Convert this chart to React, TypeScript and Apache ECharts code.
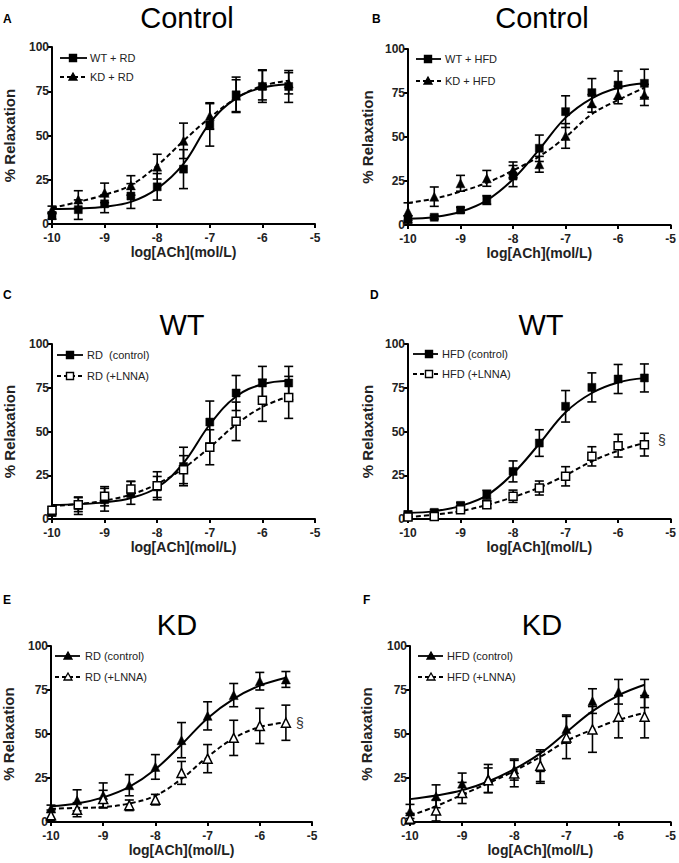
import React, { useEffect, useRef } from "react";
import * as echarts from "echarts";

// ---- shared axes ----
const X_DOSES = [-10, -9.5, -9, -8.5, -8, -7.5, -7, -6.5, -6, -5.5];
const X_TICKS = [-10, -9, -8, -7, -6, -5];
const Y_TICKS = [0, 25, 50, 75, 100];

// ---- Panel A: Control ----
const aWtRd = [4.7, 8.1, 11.4, 15.8, 21, 31, 56, 73, 77.7, 77.7];
const aWtRdErr = [2, 5.5, 5, 7, 7.5, 11, 12, 10, 9, 9];
const aWtRdFit = [8.5, 8.8, 9.8, 12.5, 20, 34, 57, 71, 77, 79];
const aKdRd = [8.1, 13.8, 17.6, 21.8, 32.4, 47, 61, 72.5, 78.6, 79.5];
const aKdRdErr = [2, 5, 5.5, 5.5, 7, 10, 7.5, 9, 8.5, 6];
const aKdRdFit = [9, 12.5, 16.5, 22, 33, 47, 60, 71, 78, 81];

// ---- Panel B: Control ----
const bWtHfd = [3.2, 4.4, 8.5, 14.2, 27.8, 43.6, 64.4, 75.2, 79.5, 80.5];
const bWtHfdErr = [2, 1, 1.5, 2.5, 6, 7.5, 9, 8, 8, 8];
const bWtHfdFit = [3.5, 4.5, 7.5, 14, 26, 43, 61, 72, 78, 80.5];
const bKdHfd = [7.6, 16.1, 23.7, 26.5, 31.3, 34.5, 50.6, 69.1, 73.9, 73.9];
const bKdHfdErr = [5, 5.5, 4.5, 4.5, 4.5, 4.5, 7, 5, 5, 6];
const bKdHfdFit = [12.5, 15, 19, 24, 31, 39, 50, 63, 71, 78];

// ---- Panel C: WT ----
const cRdCtrl = [3.8, 7.6, 11, 14.9, 18.3, 30, 55.4, 72, 77.7, 77.7];
const cRdCtrlErr = [2, 5, 6.5, 6.5, 6, 11, 12, 10, 9.5, 9.5];
const cRdCtrlFit = [8, 8.5, 9.5, 12, 18, 32, 54, 70, 77, 79];
const cRdLnna = [5, 8.2, 13, 17.1, 19, 28.2, 41, 55.8, 67.8, 69.5];
const cRdLnnaErr = [2, 4, 5.5, 4.5, 8, 8, 10, 11, 12, 12];
const cRdLnnaFit = [7.5, 8.5, 10.5, 14, 20, 29, 41, 54, 64, 70];

// ---- Panel D: WT ----
const dHfdCtrl = [2.5, 3.8, 7.8, 13.9, 27.2, 43.4, 64.4, 75.2, 80, 80.6];
const dHfdCtrlErr = [2, 1.5, 1.5, 2.5, 6, 7.6, 9, 8.3, 8.3, 8];
const dHfdCtrlFit = [3.5, 4.5, 7.5, 13.5, 26, 43, 61, 72, 78, 80.5];
const dHfdLnna = [1.1, 1.5, 5.3, 8.2, 13, 17.7, 24.4, 35.8, 41.9, 42.5];
const dHfdLnnaErr = [1.5, 1.5, 1.5, 2, 3.5, 4, 5.5, 5.5, 6.5, 6.5];
const dHfdLnnaFit = [1, 2.5, 4.5, 8, 12.5, 18, 25, 33, 39, 43.5];

// ---- Panel E: KD ----
const eRdCtrl = [7.6, 12.3, 15.2, 20.9, 31.3, 46.5, 60.3, 72.1, 80, 81];
const eRdCtrlErr = [2, 6, 7, 6, 7, 10, 8, 6.6, 5, 4.5];
const eRdCtrlFit = [9, 10.5, 14, 20, 30, 44, 59, 70, 77.5, 82];
const eRdLnna = [3.8, 7, 13, 9.5, 12.7, 27.9, 36, 47.8, 54.6, 56.4];
const eRdLnnaErr = [3, 4, 5, 3, 3, 6.5, 8, 10, 10, 10];
const eRdLnnaFit = [7.5, 8, 8.5, 10.5, 15, 24.5, 37, 47.5, 54, 56.5];

// ---- Panel F: KD ----
const fHfdCtrl = [6, 14.6, 21.8, 24.7, 29.8, 31, 52.8, 68.7, 74, 73];
const fHfdCtrlErr = [4, 6.5, 6, 8, 6, 9, 8, 7, 7, 8];
const fHfdCtrlFit = [13, 15, 18, 23, 30, 39, 51, 63, 72, 78];
const fHfdLnna = [1.9, 6.6, 16.5, 23.7, 27.5, 32, 48, 52.6, 59.8, 59.8];
const fHfdLnnaErr = [3, 6, 6, 7, 7.5, 9, 12, 13, 12, 12];
const fHfdLnnaFit = [3.5, 9, 15.5, 22, 29, 37, 46, 52.5, 58, 62];

type Sym = "square" | "triangle";
interface SeriesDef {
  name: string;
  y: number[];
  err: number[];
  fit: number[];
  sym: Sym;
  open: boolean;
  dashed: boolean;
}
interface PanelDef {
  letter: string;
  title: string;
  grid: { left: number; top: number; width: number; height: number };
  letterPos: [number, number];
  titlePos: [number, number];
  nameGapY: number;
  legend: { x0: number; x1: number; xs: number; xt: number; ys: [number, number] };
  section?: [number, number];
  series: [SeriesDef, SeriesDef];
}

const PANELS: PanelDef[] = [
  {
    letter: "A", title: "Control",
    grid: { left: 52, top: 47, width: 263, height: 177 },
    letterPos: [3, 19], titlePos: [187, 18], nameGapY: 35,
    legend: { x0: 60, x1: 87, xs: 73, xt: 90, ys: [58, 77] },
    series: [
      { name: "WT + RD", y: aWtRd, err: aWtRdErr, fit: aWtRdFit, sym: "square", open: false, dashed: false },
      { name: "KD + RD", y: aKdRd, err: aKdRdErr, fit: aKdRdFit, sym: "triangle", open: false, dashed: true },
    ],
  },
  {
    letter: "B", title: "Control",
    grid: { left: 408, top: 49, width: 264, height: 176 },
    letterPos: [372, 19], titlePos: [542, 18], nameGapY: 33,
    legend: { x0: 416, x1: 441, xs: 428, xt: 445, ys: [59, 81] },
    series: [
      { name: "WT + HFD", y: bWtHfd, err: bWtHfdErr, fit: bWtHfdFit, sym: "square", open: false, dashed: false },
      { name: "KD + HFD", y: bKdHfd, err: bKdHfdErr, fit: bKdHfdFit, sym: "triangle", open: false, dashed: true },
    ],
  },
  {
    letter: "C", title: "WT",
    grid: { left: 52, top: 344, width: 263, height: 175 },
    letterPos: [3, 295], titlePos: [182, 325], nameGapY: 35,
    legend: { x0: 57, x1: 83, xs: 70, xt: 87, ys: [355, 376] },
    series: [
      { name: "RD  (control)", y: cRdCtrl, err: cRdCtrlErr, fit: cRdCtrlFit, sym: "square", open: false, dashed: false },
      { name: "RD (+LNNA)", y: cRdLnna, err: cRdLnnaErr, fit: cRdLnnaFit, sym: "square", open: true, dashed: true },
    ],
  },
  {
    letter: "D", title: "WT",
    grid: { left: 408, top: 344, width: 264, height: 175 },
    letterPos: [370, 295], titlePos: [541, 325], nameGapY: 33,
    legend: { x0: 413, x1: 438, xs: 429, xt: 442, ys: [354, 374] },
    section: [662, 440],
    series: [
      { name: "HFD (control)", y: dHfdCtrl, err: dHfdCtrlErr, fit: dHfdCtrlFit, sym: "square", open: false, dashed: false },
      { name: "HFD (+LNNA)", y: dHfdLnna, err: dHfdLnnaErr, fit: dHfdLnnaFit, sym: "square", open: true, dashed: true },
    ],
  },
  {
    letter: "E", title: "KD",
    grid: { left: 47, top: 646, width: 265, height: 176 },
    letterPos: [3, 600], titlePos: [177, 625], nameGapY: 35,
    legend: { x0: 55, x1: 80, xs: 68, xt: 85, ys: [656, 677] },
    section: [300, 723],
    series: [
      { name: "RD (control)", y: eRdCtrl, err: eRdCtrlErr, fit: eRdCtrlFit, sym: "triangle", open: false, dashed: false },
      { name: "RD (+LNNA)", y: eRdLnna, err: eRdLnnaErr, fit: eRdLnnaFit, sym: "triangle", open: true, dashed: true },
    ],
  },
  {
    letter: "F", title: "KD",
    grid: { left: 410, top: 646, width: 263, height: 176 },
    letterPos: [363, 600], titlePos: [542, 625], nameGapY: 36,
    legend: { x0: 418, x1: 443, xs: 431, xt: 447, ys: [656, 677] },
    series: [
      { name: "HFD (control)", y: fHfdCtrl, err: fHfdCtrlErr, fit: fHfdCtrlFit, sym: "triangle", open: false, dashed: false },
      { name: "HFD (+LNNA)", y: fHfdLnna, err: fHfdLnnaErr, fit: fHfdLnnaFit, sym: "triangle", open: true, dashed: true },
    ],
  },
];

const FONT = "'Liberation Sans', Arial, Helvetica, sans-serif";
const DASH = [5, 3];

function legendGraphics(p: PanelDef): any[] {
  const out: any[] = [];
  p.series.forEach((s, i) => {
    const y = p.legend.ys[i];
    out.push({
      type: "line",
      shape: { x1: p.legend.x0, y1: y, x2: p.legend.x1, y2: y },
      style: { stroke: "#000", lineWidth: 1.8, lineDash: s.dashed ? [4, 3] : null },
      z: 10,
    });
    const fill = s.open ? "#fff" : "#000";
    if (s.sym === "square") {
      out.push({
        type: "rect",
        shape: { x: p.legend.xs - 3.5, y: y - 3.5, width: 7, height: 7 },
        style: { fill, stroke: "#000", lineWidth: 1.4 },
        z: 11,
      });
    } else {
      out.push({
        type: "polygon",
        shape: { points: [[p.legend.xs, y - 4], [p.legend.xs + 4, y + 3], [p.legend.xs - 4, y + 3]] },
        style: { fill, stroke: "#000", lineWidth: 1.3 },
        z: 11,
      });
    }
    out.push({
      type: "text",
      x: p.legend.xt, y,
      style: { text: s.name, font: `11px ${FONT}`, fill: "#222", textVerticalAlign: "middle", textAlign: "left" },
      z: 11,
    });
  });
  return out;
}

export default function App() {
  const ref = useRef<HTMLDivElement>(null);
  useEffect(() => {
    if (!ref.current) return;
    const chart = echarts.init(ref.current, null, { renderer: "svg" });

    const grids: any[] = [];
    const xAxes: any[] = [];
    const yAxes: any[] = [];
    const series: any[] = [];
    const graphics: any[] = [];

    PANELS.forEach((p, gi) => {
      grids.push({ ...p.grid, containLabel: false });
      xAxes.push({
        type: "value", gridIndex: gi, min: X_TICKS[0], max: X_TICKS[X_TICKS.length - 1], interval: 1,
        name: "log[ACh](mol/L)", nameLocation: "middle", nameGap: 20,
        nameTextStyle: { fontFamily: FONT, fontWeight: "bold", fontSize: 14, color: "#222" },
        axisLine: { onZero: false, lineStyle: { color: "#000", width: 2 } },
        axisTick: { show: true, inside: false, length: 4, lineStyle: { color: "#000", width: 2 } },
        axisLabel: { fontFamily: FONT, fontWeight: "bold", fontSize: 12, color: "#222", margin: 8 },
        splitLine: { show: false },
      });
      yAxes.push({
        type: "value", gridIndex: gi, min: Y_TICKS[0], max: Y_TICKS[Y_TICKS.length - 1], interval: 25,
        name: "% Relaxation", nameLocation: "middle", nameGap: p.nameGapY,
        nameTextStyle: { fontFamily: FONT, fontWeight: "bold", fontSize: 15, color: "#222" },
        axisLine: { show: true, onZero: false, lineStyle: { color: "#000", width: 2 } },
        axisTick: { show: true, inside: false, length: 4, lineStyle: { color: "#000", width: 2 } },
        axisLabel: { fontFamily: FONT, fontWeight: "bold", fontSize: 12, color: "#222", margin: 3 },
        splitLine: { show: false },
      });

      p.series.forEach((s) => {
        // fitted curve
        series.push({
          type: "line", xAxisIndex: gi, yAxisIndex: gi, name: s.name + " fit",
          data: X_DOSES.map((x, i) => [x, s.fit[i]]),
          smooth: 0.4, showSymbol: false, silent: true, z: 2,
          lineStyle: { color: "#000", width: 2, type: s.dashed ? DASH : "solid" },
        });
        // error bars
        series.push({
          type: "custom", xAxisIndex: gi, yAxisIndex: gi, name: s.name + " err", z: 3,
          data: X_DOSES.map((x, i) => [x, s.y[i] - s.err[i], s.y[i] + s.err[i]]),
          encode: { x: 0, y: [1, 2] },
          renderItem: (_params: any, api: any) => {
            const x = api.value(0);
            const lo = api.coord([x, api.value(1)]);
            const hi = api.coord([x, api.value(2)]);
            const w = 4.5;
            const st = { stroke: "#000", lineWidth: 1.6 };
            return {
              type: "group",
              children: [
                { type: "line", shape: { x1: lo[0], y1: lo[1], x2: hi[0], y2: hi[1] }, style: st },
                { type: "line", shape: { x1: hi[0] - w, y1: hi[1], x2: hi[0] + w, y2: hi[1] }, style: st },
                { type: "line", shape: { x1: lo[0] - w, y1: lo[1], x2: lo[0] + w, y2: lo[1] }, style: st },
              ],
            };
          },
        });
        // markers
        series.push({
          type: "scatter", xAxisIndex: gi, yAxisIndex: gi, name: s.name, z: 4,
          data: X_DOSES.map((x, i) => [x, s.y[i]]),
          symbol: s.sym === "square" ? "rect" : "triangle",
          symbolSize: s.sym === "square" ? 8 : 9,
          itemStyle: s.open
            ? { color: "#fff", borderColor: "#000", borderWidth: 1.5, opacity: 1 }
            : { color: "#000", borderColor: "#000", borderWidth: 0.5, opacity: 1 },
        });
      });

      graphics.push({
        type: "text", x: p.letterPos[0], y: p.letterPos[1],
        style: { text: p.letter, font: `bold 12px ${FONT}`, fill: "#000", textVerticalAlign: "middle" },
      });
      graphics.push({
        type: "text", x: p.titlePos[0], y: p.titlePos[1],
        style: { text: p.title, font: `29px ${FONT}`, fill: "#000", textAlign: "center", textVerticalAlign: "middle" },
      });
      graphics.push(...legendGraphics(p));
      if (p.section) {
        graphics.push({
          type: "text", x: p.section[0], y: p.section[1],
          style: { text: "§", font: `14px ${FONT}`, fill: "#333", textAlign: "center", textVerticalAlign: "middle" },
        });
      }
    });

    chart.setOption({
      animation: false,
      backgroundColor: "#fff",
      textStyle: { fontFamily: FONT },
      grid: grids,
      xAxis: xAxes,
      yAxis: yAxes,
      series,
      graphic: graphics,
    });
    return () => chart.dispose();
  }, []);

  return (
    <div
      ref={ref}
      style={{ position: "absolute", left: 0, top: 0, width: 679, height: 863, background: "#fff" }}
    />
  );
}
